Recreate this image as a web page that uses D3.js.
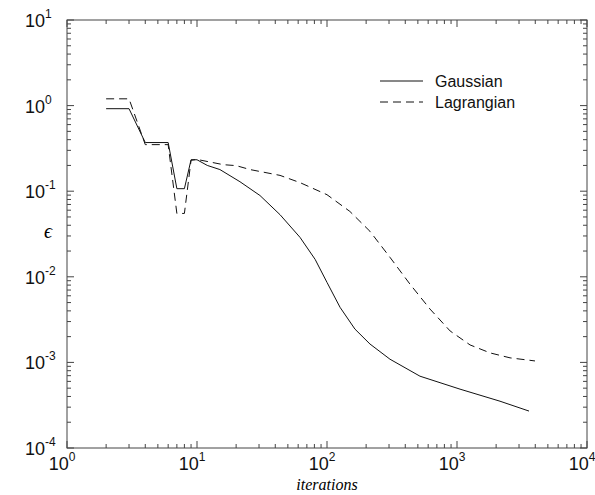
<!DOCTYPE html>
<meta charset="utf-8">
<style>
body { margin: 0; background: #fff; }
.frame { fill: none; stroke: #444; stroke-width: 1px; }
.tick { stroke: #444; stroke-width: 1px; }
.line { fill: none; stroke: #111; stroke-width: 1px; }
.ticklabel { font-family: "Liberation Sans", Arial, sans-serif; fill: #111; }
</style>
<body>
<svg width="595" height="495"></svg>
<script src="https://cdn.jsdelivr.net/npm/d3@7/dist/d3.min.js"></script>
<script>
// iterations vs error
var gaussIter = [2, 3, 4, 6, 7, 8, 9, 10, 12, 15, 21.4, 30.5, 43.5, 62, 81, 100, 126, 164, 214, 305, 519, 1055, 2142, 3580];
var gaussErr  = [0.92, 0.92, 0.37, 0.37, 0.107, 0.107, 0.233, 0.233, 0.2, 0.179, 0.129, 0.0891, 0.0532, 0.0289, 0.016, 0.0086, 0.0044, 0.00245, 0.00164, 0.00109, 0.00069, 0.000487, 0.000352, 0.00027];

var lagIter = [2, 3, 4, 6, 7, 8, 9, 10, 16, 20, 25.6, 43.5, 62, 100, 150, 214, 305, 435, 620, 885, 1260, 1800, 2560, 3980];
var lagErr  = [1.2, 1.2, 0.35, 0.35, 0.055, 0.055, 0.23, 0.235, 0.204, 0.199, 0.179, 0.153, 0.126, 0.091, 0.058, 0.034, 0.0169, 0.0082, 0.0042, 0.00233, 0.0016, 0.00129, 0.00113, 0.00104];

var xDecades = [0, 1, 2, 3, 4];
var yDecades = [-4, -3, -2, -1, 0, 1];
var legendNames = ["Gaussian", "Lagrangian"];

var svg = d3.select("svg"),
    pl = 67, pr = 587, pt = 20, pb = 448;

var x = d3.scaleLog().domain([1, 1e4]).range([pl, pr]);
var y = d3.scaleLog().domain([1e-4, 10]).range([pb, pt]);

// frame
svg.append("rect").attr("class", "frame")
    .attr("x", pl).attr("y", pt)
    .attr("width", pr - pl).attr("height", pb - pt);

// ticks, log style: majors at decades, minors 2..9
function logTicks(decades) {
  var out = [];
  decades.forEach(function(e, i) {
    out.push({v: Math.pow(10, e), major: true});
    if (i < decades.length - 1)
      for (var k = 2; k <= 9; k++) out.push({v: k * Math.pow(10, e), major: false});
  });
  return out;
}
var xt = logTicks(xDecades), yt = logTicks(yDecades);

svg.selectAll(".xtb").data(xt).enter().append("line").attr("class", "tick")
    .attr("x1", function(d) { return x(d.v); }).attr("x2", function(d) { return x(d.v); })
    .attr("y1", pb).attr("y2", function(d) { return pb - (d.major ? 7 : 4); });
svg.selectAll(".xtt").data(xt).enter().append("line").attr("class", "tick")
    .attr("x1", function(d) { return x(d.v); }).attr("x2", function(d) { return x(d.v); })
    .attr("y1", pt).attr("y2", function(d) { return pt + (d.major ? 7 : 4); });
svg.selectAll(".ytl").data(yt).enter().append("line").attr("class", "tick")
    .attr("y1", function(d) { return y(d.v); }).attr("y2", function(d) { return y(d.v); })
    .attr("x1", pl).attr("x2", function(d) { return pl + (d.major ? 7 : 4); });
svg.selectAll(".ytr").data(yt).enter().append("line").attr("class", "tick")
    .attr("y1", function(d) { return y(d.v); }).attr("y2", function(d) { return y(d.v); })
    .attr("x1", pr).attr("x2", function(d) { return pr - (d.major ? 7 : 4); });

// tick labels 10^n
xDecades.forEach(function(e) {
  var t = svg.append("text").attr("class", "ticklabel")
      .attr("x", x(Math.pow(10, e)) - 5).attr("y", 470)
      .attr("text-anchor", "middle").style("font-size", "18px");
  t.append("tspan").text("10");
  t.append("tspan").attr("dy", -9).style("font-size", "12px").text(e);
});
yDecades.forEach(function(e) {
  var t = svg.append("text").attr("class", "ticklabel")
      .attr("x", 25).attr("y", y(Math.pow(10, e)) + 7)
      .style("font-size", "18px");
  t.append("tspan").text("10");
  t.append("tspan").attr("dy", -9).style("font-size", "12px").text(e);
});

// axis titles
svg.append("text").attr("x", 327).attr("y", 490).attr("text-anchor", "middle")
    .style("font", "italic 16px 'Liberation Serif', serif").text("iterations");
svg.append("text").attr("x", 48).attr("y", 238).attr("text-anchor", "middle")
    .style("font", "italic 20px 'Liberation Serif', serif").text("\u03f5");

// curves
var line = d3.line()
    .x(function(d) { return x(d[0]); })
    .y(function(d) { return y(d[1]); });

svg.append("path").attr("class", "line")
    .attr("d", line(d3.zip(gaussIter, gaussErr)));
svg.append("path").attr("class", "line")
    .style("stroke-dasharray", "8,5")
    .attr("d", line(d3.zip(lagIter, lagErr)));

// legend
legendNames.forEach(function(name, i) {
  var ly = 81 + i * 21;
  svg.append("line").attr("class", "line")
      .attr("x1", 380).attr("x2", 423).attr("y1", ly).attr("y2", ly)
      .style("stroke-dasharray", i ? "8,5" : null);
  svg.append("text").attr("x", 435).attr("y", ly + 6)
      .style("font", "16px 'Liberation Sans', Arial, sans-serif").attr("fill", "#111")
      .text(name);
});
</script>
</body>
